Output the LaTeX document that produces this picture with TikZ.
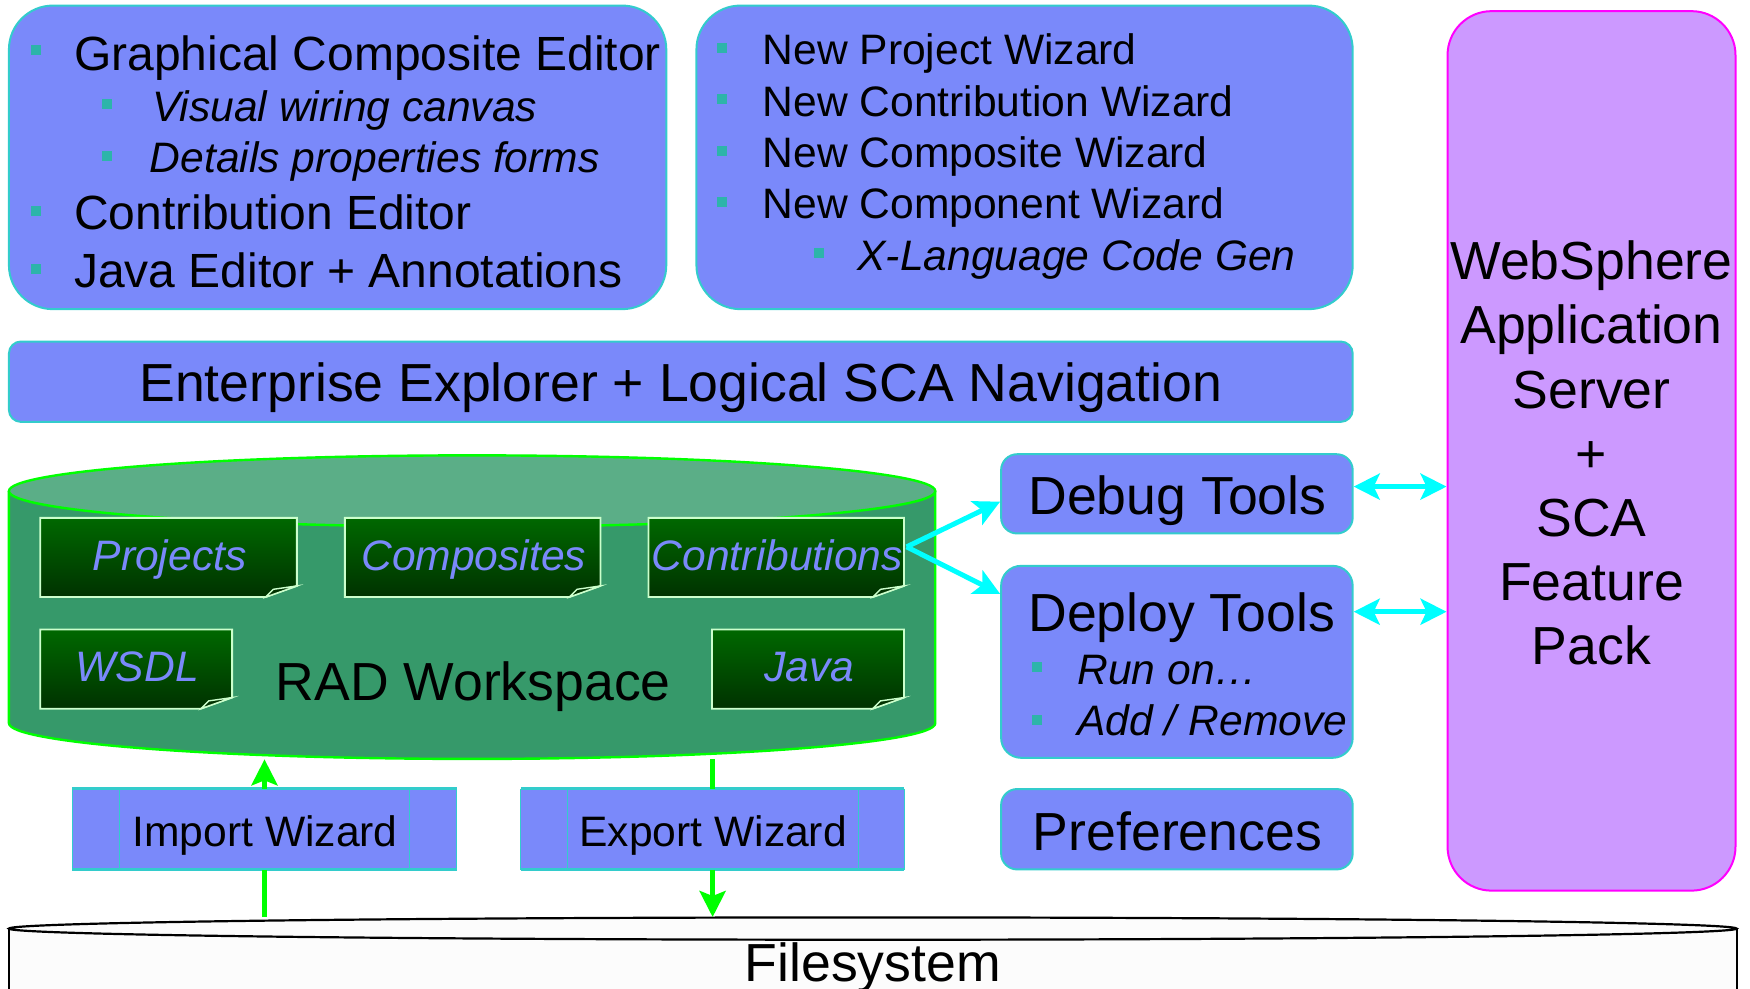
\documentclass[tikz,border=0pt]{standalone}
\usepackage{fontspec}
\setmainfont{Liberation Sans}
\usetikzlibrary{arrows.meta,fit,calc}
\definecolor{boxfill}{RGB}{122,137,250}
\definecolor{boxline}{RGB}{51,204,204}
\definecolor{bulletc}{RGB}{45,180,170}
\definecolor{wsfill}{RGB}{204,153,255}
\definecolor{wsline}{RGB}{255,0,255}
\definecolor{cylbody}{RGB}{54,153,106}
\definecolor{cyltop}{RGB}{91,174,135}
\definecolor{lgreen}{RGB}{0,255,0}
\definecolor{doctop}{RGB}{0,104,0}
\definecolor{docbot}{RGB}{0,50,0}
\definecolor{docline}{RGB}{204,255,204}
\definecolor{fsfill}{RGB}{252,252,252}
\definecolor{arrcyan}{RGB}{0,255,255}
\newcommand{\docbox}[6]{%
  \node[fit={(#2,#3) (#4,#5)}, inner sep=0pt] (#1) {};
  \path[top color=doctop, bottom color=docbot, draw=docline, line width=0.9pt]
    (#2,#3) -- (#4,#3) -- (#4,#5-10) -- (#4-28,#5) -- (#2,#5) -- cycle;
  \path[fill=docbot, draw=docline, line width=0.7pt]
    (#4-28,#5) -- (#4,#5-10) -- (#4-21,#5-7) -- cycle;
  \node[doctxt, anchor=base] (#1t) at ($(#1.center)+(1,11.5)$) {#6};
}
\begin{document}
\begin{tikzpicture}[x=0.5581pt, y=-0.5581pt,
  rbox/.style={draw=boxline, fill=boxfill, line width=1pt, inner sep=0pt},
  bul/.style={rectangle, fill=bulletc, inner sep=0pt, minimum size=5pt},
  txt/.style={inner sep=0pt, anchor=base west},
  bigf/.style={font=\fontsize{26.8}{32}\selectfont},
  lgf/.style={font=\fontsize{24}{28}\selectfont},
  mdf/.style={font=\fontsize{21.3}{25}\selectfont},
  itf/.style={font=\fontsize{21.3}{25}\selectfont\itshape},
  doctxt/.style={inner sep=0pt, text=boxfill, font=\fontsize{21.3}{25}\selectfont\itshape},
  gline/.style={draw=lgreen, line width=2.5pt},
  garrow/.style={draw=lgreen, line width=2.5pt, -{Stealth[length=13pt,width=13pt,inset=2.5pt]}},
  carrow/.style={draw=arrcyan, line width=2.5pt, -{Stealth[length=13pt,width=13pt,inset=3pt]}},
  cbiarrow/.style={draw=arrcyan, line width=2.5pt, {Stealth[length=13pt,width=13pt,inset=3pt]}-{Stealth[length=13pt,width=13pt,inset=3pt]}}
]
\useasboundingbox (0,0) rectangle (1568,886);

% ---------- top-left box ----------
\node[rbox, rounded corners=22pt, fit={(8,5) (597,277)}] (ged) {};
\node[bul] (b11) at (32,45) {};
\node[txt, lgf] (t11) at (66,63) {Graphical Composite Editor};
\node[bul] (b12) at (96,93) {};
\node[txt, itf] (t12) at (136,109) {Visual wiring canvas};
\node[bul] (b13) at (96,140) {};
\node[txt, itf] (t13) at (134,155) {Details properties forms};
\node[bul] (b14) at (32,189) {};
\node[txt, lgf] (t14) at (66,206) {Contribution Editor};
\node[bul] (b15) at (32,241) {};
\node[txt, lgf] (t15) at (66,258) {Java Editor + Annotations};

% ---------- top-middle box ----------
\node[rbox, rounded corners=22pt, fit={(624,5) (1212,277)}] (wiz) {};
\node[bul] (b21) at (647,43) {};
\node[txt, mdf] (t21) at (683,58) {New Project Wizard};
\node[bul] (b22) at (647,89) {};
\node[txt, mdf] (t22) at (683,104) {New Contribution Wizard};
\node[bul] (b23) at (647,135) {};
\node[txt, mdf] (t23) at (683,150) {New Composite Wizard};
\node[bul] (b24) at (647,181) {};
\node[txt, mdf] (t24) at (683,196) {New Component Wizard};
\node[bul] (b25) at (734,227) {};
\node[txt, itf] (t25) at (768,242) {X-Language Code Gen};

% ---------- enterprise explorer ----------
\node[rbox, rounded corners=6pt, fit={(8,306) (1212,378)}] (ee) {};
\node[inner sep=0pt, anchor=base, bigf] (eet) at (610,360) {Enterprise Explorer + Logical SCA Navigation};

% ---------- WebSphere ----------
\node[draw=wsline, fill=wsfill, line width=1pt, inner sep=0pt, rounded corners=22pt, fit={(1297,10) (1555,798)}] (ws) {};
\node[align=center, inner sep=0pt, font=\fontsize{26.8}{32.1}\selectfont] (wst) at (1426,406)
  {WebSphere\\Application\\Server\\+\\SCA\\Feature\\Pack};

% ---------- RAD workspace cylinder ----------
\node[fit={(8,408) (838,680)}, inner sep=0pt] (rad) {};
\fill[cylbody] (8,440) rectangle (838,648);
\fill[cylbody] (423,648) ellipse[x radius=415, y radius=32];
\draw[lgreen, line width=1.2pt] (8,440) -- (8,648) arc[start angle=180, end angle=0, x radius=415, y radius=32] -- (838,440);
\filldraw[fill=cyltop, draw=lgreen, line width=1.2pt] (423,440) ellipse[x radius=415, y radius=32];
\node[inner sep=0pt, anchor=base, bigf] (radt) at (424,628) {RAD Workspace};

\docbox{proj}{36}{464}{266}{535}{Projects}
\docbox{comp}{309}{464}{538}{535}{Composites}
\docbox{contrib}{581}{464}{810}{535}{Contributions}
\docbox{wsdl}{36}{564}{208}{635}{WSDL}
\docbox{java}{638}{564}{810}{635}{Java}

% ---------- tools ----------
\node[rbox, rounded corners=8pt, fit={(897,407) (1212,478)}] (debug) {};
\node[inner sep=0pt, anchor=base, bigf] (debugt) at (1055,461) {Debug Tools};
\node[rbox, rounded corners=10pt, fit={(897,507) (1212,679)}] (deploy) {};
\node[txt, bigf] (deployt) at (921,566) {Deploy Tools};
\node[bul] (b31) at (929,598) {};
\node[txt, itf] (t31) at (965,613) {Run on…};
\node[bul] (b32) at (929,645) {};
\node[txt, itf] (t32) at (965,659) {Add / Remove};
\node[rbox, rounded corners=8pt, fit={(897,707) (1212,779)}] (pref) {};
\node[inner sep=0pt, anchor=base, bigf] (preft) at (1055,762) {Preferences};

% ---------- import / export wizards ----------
\node[fit={(65,707) (409,779)}, inner sep=0pt, fill=boxfill] (imp) {};
\draw[boxline, line width=0.4pt] (imp.north west) -- (imp.south west) (imp.north east) -- (imp.south east) (107,707) -- (107,779) (367,707) -- (367,779);
\draw[boxline, line width=1.5pt] (imp.north west) -- (imp.north east) (imp.south west) -- (imp.south east);
\node[inner sep=0pt, anchor=base, mdf] (impt) at (237.5,758.5) {Import Wizard};
\node[fit={(467,707) (810,779)}, inner sep=0pt, fill=boxfill] (exp) {};
\draw[boxline, line width=0.4pt] (exp.north west) -- (exp.south west) (exp.north east) -- (exp.south east) (508,707) -- (508,779) (769,707) -- (769,779);
\draw[boxline, line width=1.5pt] (exp.north west) -- (exp.north east) (exp.south west) -- (exp.south east);
\node[inner sep=0pt, anchor=base, mdf] (expt) at (639,758.5) {Export Wizard};

% ---------- filesystem ----------
\node[fit={(8,822) (1556,900)}, inner sep=0pt] (fs) {};
\filldraw[fill=fsfill, draw=black, line width=1.1pt] (8,832) -- (8,905) -- (1556,905) -- (1556,832);
\filldraw[fill=fsfill, draw=black, line width=1.1pt] (782,832) ellipse[x radius=774, y radius=10];
\node[inner sep=0pt, anchor=base, bigf] (fst) at (782,879) {Filesystem};

% ---------- connectors ----------
\draw[gline] (imp.south |- fs.north) -- (imp.south);
\draw[garrow] (imp.north) -- (imp.north |- rad.south);
\draw[gline] (exp.north |- rad.south) -- (exp.north);
\draw[garrow] (exp.south) -- (exp.south |- fs.north);

\coordinate (cf) at ($(contrib.east)+(2,-9.5)$);
\draw[carrow] (cf) -- ($(debug.west)+(0,7)$);
\draw[carrow] (cf) -- ($(deploy.north west)+(0,26)$);
\coordinate (d1) at ($(debug.east)+(0,-6.5)$);
\draw[cbiarrow] (d1) -- (d1 -| ws.west);
\coordinate (d2) at ($(deploy.north east)+(0,42)$);
\draw[cbiarrow] (d2) -- (d2 -| ws.west);
\end{tikzpicture}
\end{document}
